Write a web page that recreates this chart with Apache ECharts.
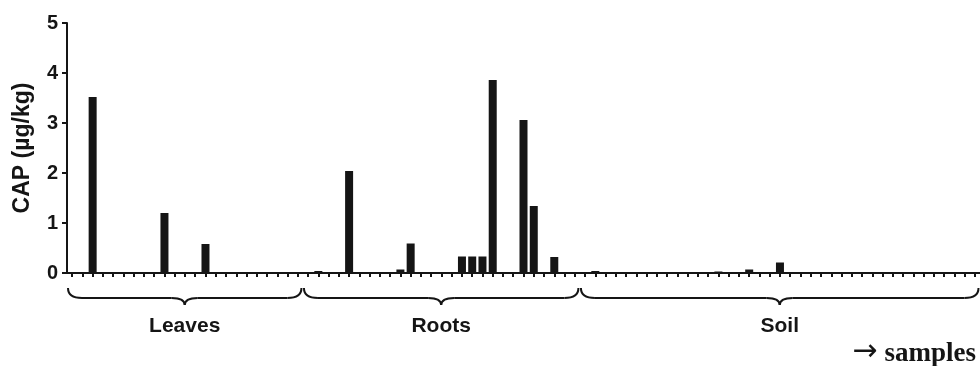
<!DOCTYPE html>
<html>
<head>
<meta charset="utf-8">
<script src="https://cdn.jsdelivr.net/npm/echarts@6/dist/echarts.min.js"></script>
<style>
html,body{margin:0;padding:0;background:#fff;}
#c{width:980px;height:366px;}
</style>
</head>
<body>
<div id="c"></div>
<script>
// ---- data ----
var groupNames = ['Leaves', 'Roots', 'Soil'];
var leavesValues = [0, 0, 3.52, 0, 0, 0, 0, 0, 0, 1.2, 0, 0, 0, 0.58, 0, 0, 0, 0, 0, 0, 0, 0, 0];
var rootsValues = [0, 0.04, 0, 0, 2.04, 0, 0, 0, 0, 0.07, 0.59, 0, 0, 0, 0, 0.33, 0.33, 0.33, 3.86, 0, 0, 3.06, 1.34, 0, 0.32, 0, 0];
var soilValues = [0, 0.04, 0, 0, 0, 0, 0, 0, 0, 0, 0, 0, 0, 0.03, 0, 0, 0.07, 0, 0, 0.21, 0, 0, 0, 0, 0, 0, 0, 0, 0, 0, 0, 0, 0, 0, 0, 0, 0, 0, 0];
var yTicks = [0, 1, 2, 3, 4, 5];
var yTitle = 'CAP (µg/kg)';
var xNoteArrow = '\u2192';
var xNote = 'samples';

var groups = [leavesValues, rootsValues, soilValues];
var values = [].concat(leavesValues, rootsValues, soilValues);
var categories = values.map(function (v, i) { return String(i + 1); });

var chart = echarts.init(document.getElementById('c'), null, {renderer: 'canvas'});
var ink = '#151515';
chart.setOption({
  animation: false,
  backgroundColor: '#ffffff',
  grid: {left: 67, right: -4, top: 23, bottom: 93, containLabel: false},
  xAxis: {
    type: 'category',
    data: categories,
    boundaryGap: true,
    axisLine: {show: true, lineStyle: {color: ink, width: 2}},
    axisTick: {show: true, alignWithLabel: true, interval: 0, length: 4, lineStyle: {color: ink, width: 2}},
    axisLabel: {show: false},
    splitLine: {show: false}
  },
  yAxis: {
    type: 'value',
    min: yTicks[0],
    max: yTicks[yTicks.length - 1],
    interval: 1,
    name: yTitle,
    nameLocation: 'middle',
    nameRotate: 90,
    nameGap: 33,
    nameTextStyle: {fontFamily: 'Liberation Sans, Arial, sans-serif', fontWeight: 'bold', fontSize: 23, color: ink},
    axisLine: {show: true, lineStyle: {color: ink, width: 2}},
    axisTick: {show: true, length: 5, lineStyle: {color: ink, width: 2}},
    axisLabel: {margin: 9, fontFamily: 'Liberation Sans, Arial, sans-serif', fontWeight: 'bold', fontSize: 20, color: ink},
    splitLine: {show: false}
  },
  series: [{
    type: 'bar',
    data: values,
    barWidth: 8,
    itemStyle: {color: ink},
    emphasis: {disabled: true}
  }]
});

// braces and group labels placed from the axis scale
function px(i) { return chart.convertToPixel({xAxisIndex: 0}, i); }
var band = px(1) - px(0);
var graphics = [];
var start = 0;
var yTop = 288, yLine = 298, yTip = 305, rEnd = 14, rTip = 13;
var stroke = {fill: null, stroke: ink, lineWidth: 2};
function curve(x1, y1, cx, cy, x2, y2) {
  graphics.push({type: 'bezierCurve', shape: {x1: x1, y1: y1, x2: x2, y2: y2, cpx1: cx, cpy1: cy}, style: stroke});
}
function seg(x1, y1, x2, y2) {
  graphics.push({type: 'line', shape: {x1: x1, y1: y1, x2: x2, y2: y2}, style: stroke});
}
groups.forEach(function (g, gi) {
  var x0 = px(start) - band / 2 + 1;
  var x1 = px(start + g.length - 1) + band / 2 - 1.5;
  var xc = (x0 + x1) / 2;
  curve(x0, yTop, x0, yLine, x0 + rEnd, yLine);
  seg(x0 + rEnd, yLine, xc - rTip, yLine);
  curve(xc - rTip, yLine, xc, yLine, xc, yTip);
  curve(xc, yTip, xc, yLine, xc + rTip, yLine);
  seg(xc + rTip, yLine, x1 - rEnd, yLine);
  curve(x1 - rEnd, yLine, x1, yLine, x1, yTop);
  graphics.push({
    type: 'text', x: xc, y: 326,
    style: {text: groupNames[gi], fill: ink, font: 'bold 21px "Liberation Sans", Arial, sans-serif',
      textAlign: 'center', textVerticalAlign: 'middle'}
  });
  start += g.length;
});
graphics.push({
  type: 'text', x: 976, y: 354,
  style: {
    text: '{a|' + xNoteArrow + '}{b|' + xNote + '}',
    textAlign: 'right', textVerticalAlign: 'middle',
    rich: {
      a: {fontFamily: 'DejaVu Sans', fontSize: 30, fill: ink, color: ink, verticalAlign: 'middle', padding: [0, 7, 3, 0]},
      b: {fontFamily: 'Liberation Serif', fontWeight: 'bold', fontSize: 27, fill: ink, color: ink, verticalAlign: 'middle'}
    }
  }
});
chart.setOption({graphic: graphics});
</script>
</body>
</html>
